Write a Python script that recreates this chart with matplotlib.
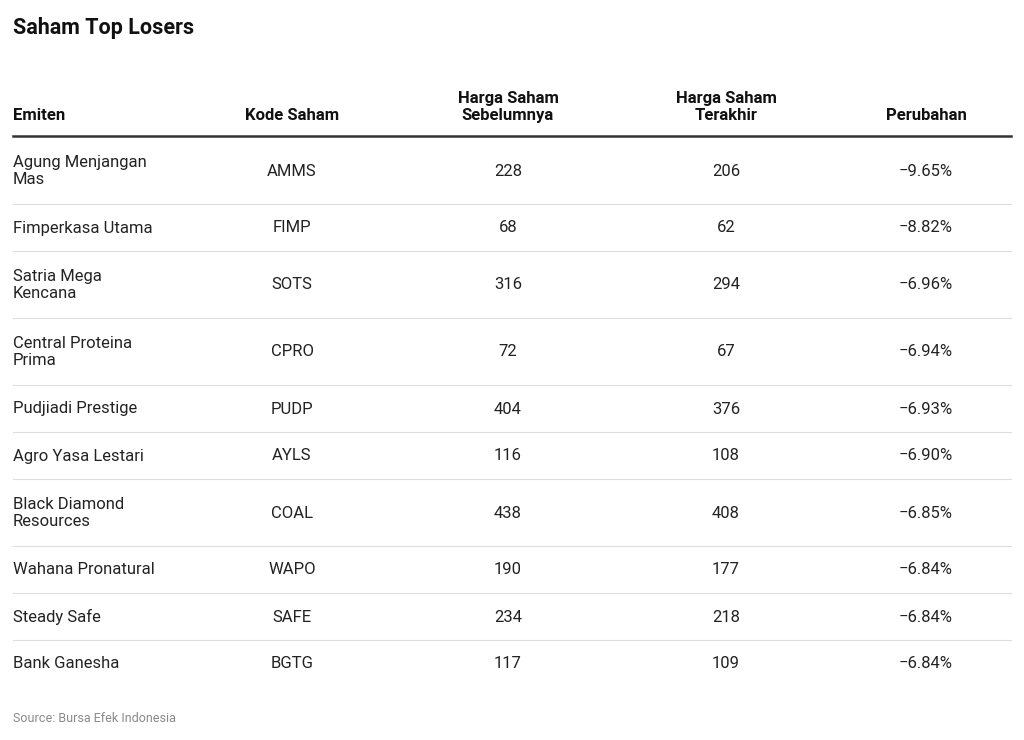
import matplotlib
matplotlib.use("Agg")
import matplotlib.pyplot as plt
from matplotlib.lines import Line2D

emiten = ["Agung Menjangan\nMas", "Fimperkasa Utama", "Satria Mega\nKencana", "Central Proteina\nPrima",
          "Pudjiadi Prestige", "Agro Yasa Lestari", "Black Diamond\nResources", "Wahana Pronatural",
          "Steady Safe", "Bank Ganesha"]
kode = ["AMMS", "FIMP", "SOTS", "CPRO", "PUDP", "AYLS", "COAL", "WAPO", "SAFE", "BGTG"]
harga_sebelumnya = [228, 68, 316, 72, 404, 116, 438, 190, 234, 117]
harga_terakhir = [206, 62, 294, 67, 376, 108, 408, 177, 218, 109]
perubahan = [-9.65, -8.82, -6.96, -6.94, -6.93, -6.90, -6.85, -6.84, -6.84, -6.84]
headers = ["Emiten", "Kode Saham", "Harga Saham\nSebelumnya", "Harga Saham\nTerakhir", "Perubahan"]

W, H = 1024, 740
fig = plt.figure(figsize=(W/100, H/100), dpi=100)
plt.rcParams["font.family"] = "Roboto"
def fx(x): return x / W
def fy(y): return 1 - y / H

fig.text(fx(13), fy(28), "Saham Top Losers", fontsize=15.5, fontweight="bold", va="center", color="#111111")

col_x = [13, 292, 508, 726, 926]
aligns = ["left", "center", "center", "center", "center"]
for x, h, a in zip(col_x, headers, aligns):
    fig.text(fx(x), fy(123), h, fontsize=12, fontweight="bold", ha=a, va="bottom",
             color="#111111", linespacing=1.15)

fig.add_artist(Line2D([fx(13), fx(1011)], [fy(136), fy(136)], color="#333333", lw=1.8))

centers = [171, 228, 285, 352, 409, 456, 513, 570, 617, 663]
seps = [204, 251, 318, 385, 432, 479, 546, 593, 640]
for s in seps:
    fig.add_artist(Line2D([fx(13), fx(1011)], [fy(s), fy(s)], color="#dddddd", lw=0.8))

for i, yc in enumerate(centers):
    vals = [emiten[i], kode[i], str(harga_sebelumnya[i]), str(harga_terakhir[i]),
            f"{perubahan[i]:.2f}%".replace("-", "\u2212")]
    for x, v, a in zip(col_x, vals, aligns):
        fig.text(fx(x), fy(yc), v, fontsize=12, ha=a, va="center", color="#222222", linespacing=1.15)

fig.text(fx(13), fy(718), "Source: Bursa Efek Indonesia", fontsize=9, va="center", color="#888888")
fig.savefig("out.png", dpi=100)
